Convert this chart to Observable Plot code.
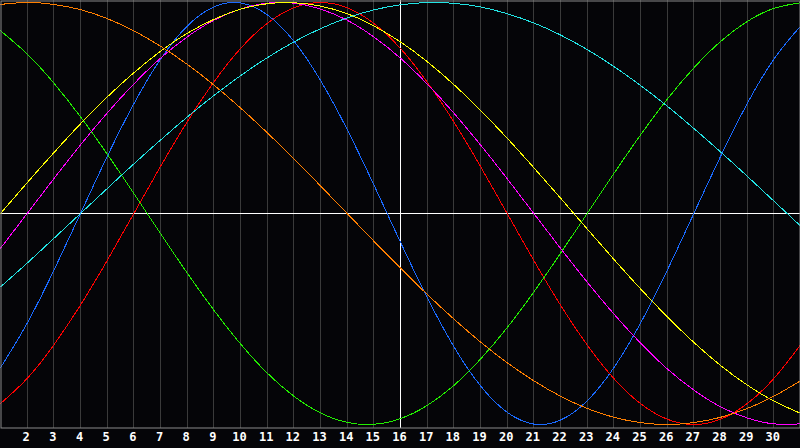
<!DOCTYPE html>
<html>
<head>
<meta charset="utf-8">
<script src="https://cdn.jsdelivr.net/npm/d3@7"></script>
<script src="https://cdn.jsdelivr.net/npm/@observablehq/plot@0.6"></script>
<style>
  html, body { margin: 0; padding: 0; background: #050508; }
  #chart { width: 800px; height: 448px; overflow: hidden; }
</style>
</head>
<body>
<div id="chart"></div>
<script>
const days = d3.range(1, 32);
const tickDays = d3.range(2, 31);
const today = 16;

const blue    = [-0.731,-0.520,-0.270,0,0.270,0.520,0.731,0.888,0.979,0.998,0.942,0.817,0.631,0.398,0.136,-0.136,-0.398,-0.631,-0.817,-0.942,-0.998,-0.979,-0.888,-0.731,-0.520,-0.270,0,0.270,0.520,0.731,0.888];
const red     = [-0.901,-0.782,-0.623,-0.434,-0.223,0,0.223,0.434,0.623,0.782,0.901,0.975,1,0.975,0.901,0.782,0.623,0.434,0.223,0,-0.223,-0.434,-0.623,-0.782,-0.901,-0.975,-1,-0.975,-0.901,-0.782,-0.623];
const green   = [0.866,0.756,0.618,0.458,0.282,0.095,-0.095,-0.282,-0.458,-0.618,-0.756,-0.866,-0.945,-0.990,-0.999,-0.972,-0.910,-0.815,-0.690,-0.541,-0.372,-0.189,0,0.189,0.372,0.541,0.690,0.815,0.910,0.972,0.999];
const magenta = [-0.165,0,0.165,0.325,0.476,0.614,0.736,0.837,0.916,0.969,0.997,0.997,0.969,0.916,0.837,0.736,0.614,0.476,0.325,0.165,0,-0.165,-0.325,-0.476,-0.614,-0.736,-0.837,-0.916,-0.969,-0.997,-0.997];
const yellow  = [0,0.146,0.288,0.425,0.552,0.667,0.769,0.854,0.920,0.968,0.994,0.999,0.983,0.947,0.889,0.813,0.720,0.611,0.489,0.357,0.217,0.073,-0.073,-0.217,-0.357,-0.489,-0.611,-0.720,-0.813,-0.889,-0.947];
const orange  = [0.991,1,0.991,0.966,0.924,0.866,0.793,0.707,0.609,0.5,0.383,0.259,0.131,0,-0.131,-0.259,-0.383,-0.5,-0.609,-0.707,-0.793,-0.866,-0.924,-0.966,-0.991,-1,-0.991,-0.966,-0.924,-0.866,-0.793];
const cyan    = [-0.348,-0.235,-0.118,0,0.118,0.235,0.348,0.457,0.559,0.653,0.738,0.813,0.876,0.927,0.965,0.989,1.000,0.996,0.979,0.947,0.903,0.846,0.777,0.697,0.607,0.509,0.403,0.292,0.177,0.059,-0.059];

const seriesList = [
  {name: "physical", values: blue, color: "#1a6aff"},
  {name: "emotional", values: red, color: "#ff0000"},
  {name: "intellectual", values: green, color: "#22ee00"},
  {name: "intuitive", values: magenta, color: "#ff00ff"},
  {name: "aesthetic", values: yellow, color: "#ffff00"},
  {name: "awareness", values: orange, color: "#ff7f00"},
  {name: "spiritual", values: cyan, color: "#22e4e4"}
];

const rows = seriesList.flatMap(s => s.values.map((v, i) => ({series: s.name, day: days[i], value: v})));

const chart = Plot.plot({
  width: 800,
  height: 448,
  marginLeft: 0,
  marginRight: 0,
  marginTop: 0,
  marginBottom: 20,
  style: {background: "#050508", color: "#ffffff", overflow: "visible"},
  x: {domain: [1, 31], axis: null},
  y: {domain: [-1.019, 1.0095], axis: null},
  color: {domain: seriesList.map(s => s.name), range: seriesList.map(s => s.color)},
  marks: [
    Plot.ruleX(tickDays, {stroke: "#3a3a3a", strokeWidth: 1, shapeRendering: "crispEdges"}),
    Plot.ruleY([0], {stroke: "#ffffff", strokeWidth: 1, shapeRendering: "crispEdges"}),
    Plot.ruleX([today], {stroke: "#ffffff", strokeWidth: 1, shapeRendering: "crispEdges"}),
    Plot.line(rows, {x: "day", y: "value", z: "series", stroke: "series", strokeWidth: 1, curve: "natural", shapeRendering: "crispEdges"}),
    Plot.frame({stroke: "#8a8a8a", strokeWidth: 1, insetLeft: 0.5, insetRight: 0.5, insetTop: 0.5, insetBottom: 0.5}),
    Plot.axisX({ticks: tickDays, label: null, tickSize: 0, tickPadding: 4, dx: -1, fontWeight: "bold", fontSize: 12, fontFamily: "DejaVu Sans Mono", fill: "#ffffff"})
  ]
});
document.getElementById("chart").appendChild(chart);
</script>
</body>
</html>
